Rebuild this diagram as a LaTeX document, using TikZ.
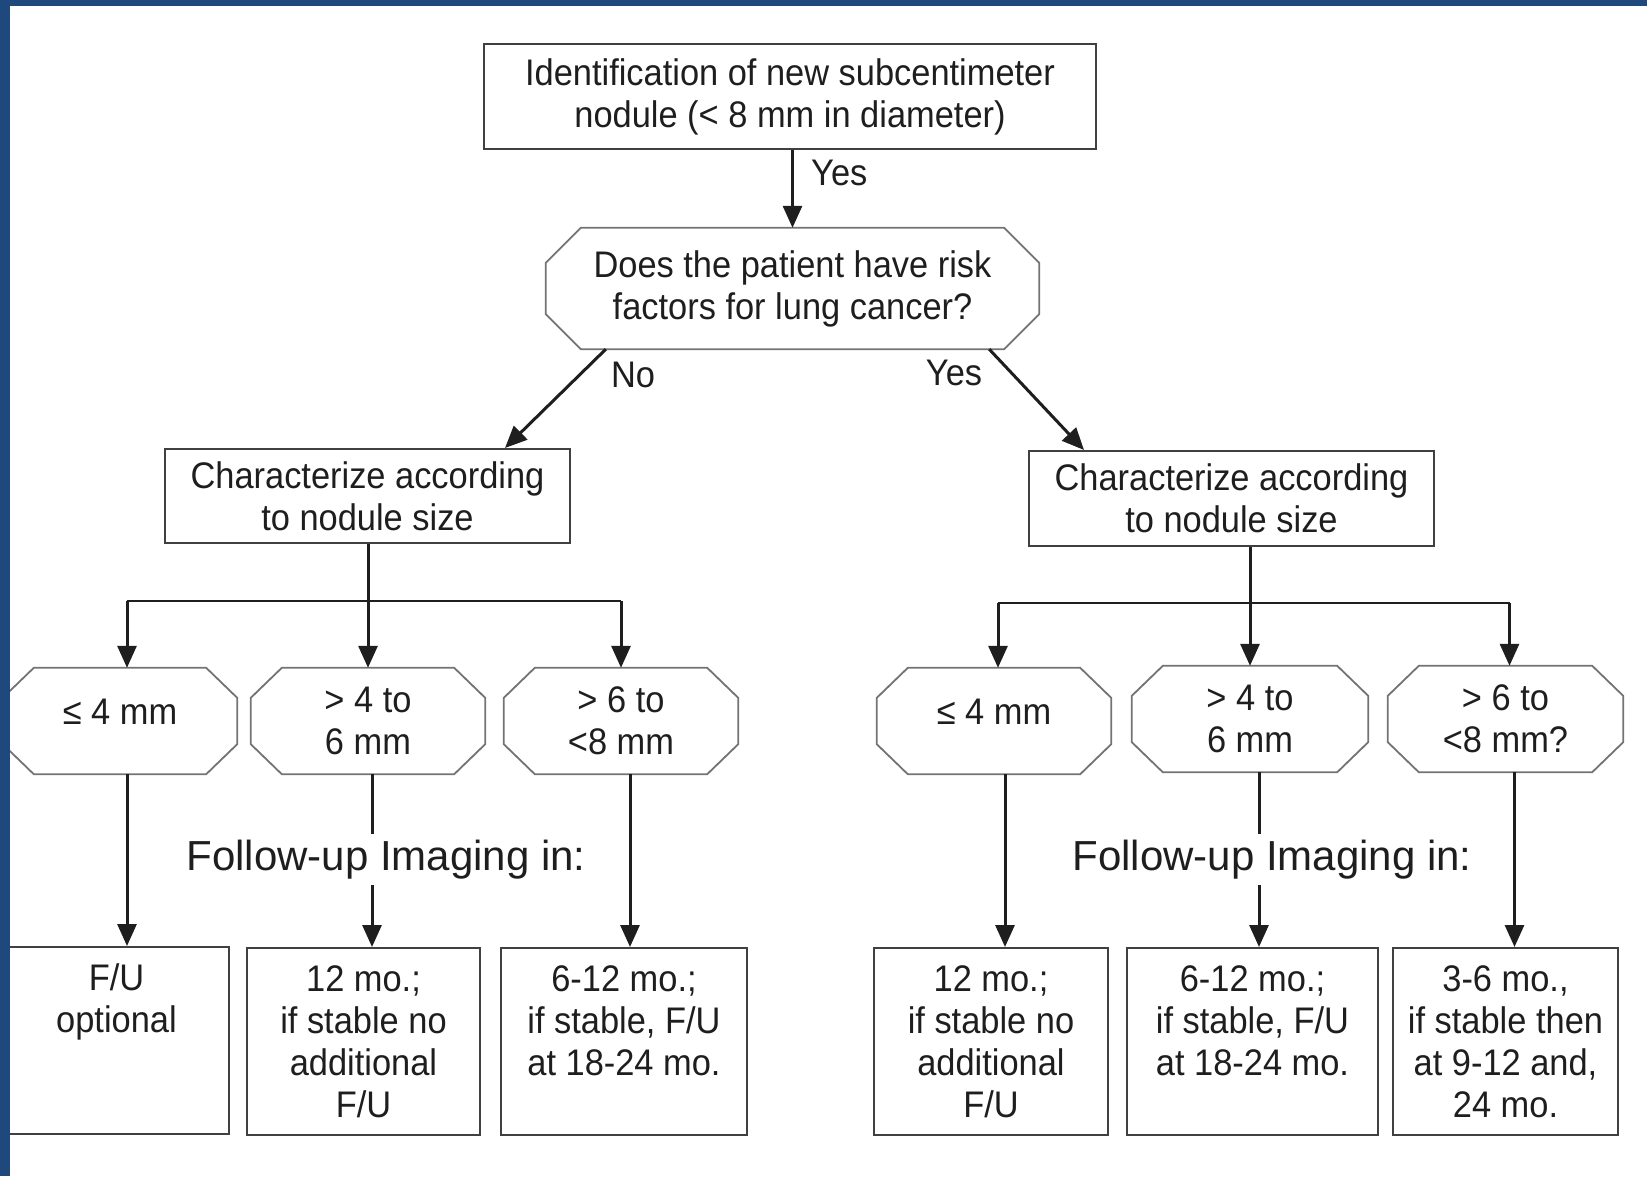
\documentclass[tikz,border=0pt]{standalone}
\usepackage{fontspec}
\setmainfont{Liberation Sans}
\newfontfamily\narrowfont[FakeStretch=0.93]{Liberation Sans}
\usetikzlibrary{arrows.meta,calc}
\definecolor{bandblue}{RGB}{31,73,125}
\definecolor{ink}{RGB}{30,30,30}
\tikzset{
  txt/.style={font=\narrowfont\fontsize{37}{42}\selectfont, text=ink, align=center},
  box/.style={txt, draw=ink!85, line width=2pt, inner sep=0pt},
  octbox/.style={txt, inner sep=0pt, minimum width=234pt, minimum height=106pt},
  octline/.style={draw=black!55, line width=1.8pt, line join=miter},
  bbox/.style={box, minimum height=187pt},
  arr/.style={draw=ink, line width=3pt, -{Triangle[width=19pt,length=22pt]}},
  plainline/.style={draw=ink, line width=3pt},
  bar/.style={draw=ink, line width=2.2pt},
  lbl/.style={txt, inner sep=0pt},
  fu/.style={font=\fontsize{42}{48}\selectfont, text=ink, inner ysep=6pt, inner xsep=0pt, text height=30pt, text depth=9pt},
}
\newcommand\octdraw[3]{%
  \draw[octline] ([xshift=#2]#1.north west) -- ([xshift=-#2]#1.north east)
    -- ([yshift=-#3]#1.north east) -- ([yshift=#3]#1.south east)
    -- ([xshift=-#2]#1.south east) -- ([xshift=#2]#1.south west)
    -- ([yshift=#3]#1.south west) -- ([yshift=-#3]#1.north west) -- cycle;}
\begin{document}
\begin{tikzpicture}[x=1pt,y=-1pt]
\useasboundingbox (0,0) rectangle (1647,1176);

% top
\node[box, minimum width=612pt, minimum height=105pt] (top) at (790,96.5)
  {Identification of new subcentimeter\\nodule (< 8 mm in diameter)};
\node[octbox, minimum width=493pt, minimum height=121pt] (Q) at (792.5,288.5)
  {Does the patient have risk\\factors for lung cancer?};
\octdraw{Q}{35pt}{35pt}

\node[box, minimum width=405pt, minimum height=94pt] (L) at (367.5,496)
  {Characterize according\\to nodule size};
\node[box, minimum width=405pt, minimum height=95pt] (R) at (1231.5,498.5)
  {Characterize according\\to nodule size};

% octagons
\node[octbox, text depth=18pt] (o1) at (120,721) {≤ 4 mm};
\node[octbox] (o2) at (368,721) {> 4 to\\6 mm};
\node[octbox] (o3) at (621,721) {> 6 to\\<8 mm};
\node[octbox, text depth=18pt] (o4) at (994,721) {≤ 4 mm};
\node[octbox, minimum width=236pt] (o5) at (1250,719) {> 4 to\\6 mm};
\node[octbox, minimum width=235pt] (o6) at (1505.5,719) {> 6 to\\<8 mm?};
\foreach \n in {o1,o2,o3,o4,o5,o6} {\octdraw{\n}{31pt}{30pt}}

% bottom boxes
\node[bbox, minimum width=225pt] (B1) at (116.5,1040.5) {F/U\\optional\\\mbox{}\\\mbox{}};
\node[bbox, minimum width=233pt] (B2) at (363.5,1041.5) {12 mo.;\\if stable no\\additional\\F/U};
\node[bbox, minimum width=246pt] (B3) at (624,1041.5) {6-12 mo.;\\if stable, F/U\\at 18-24 mo.\\\mbox{}};
\node[bbox, minimum width=234pt] (B4) at (991,1041.5) {12 mo.;\\if stable no\\additional\\F/U};
\node[bbox, minimum width=251pt] (B5) at (1252.5,1041.5) {6-12 mo.;\\if stable, F/U\\at 18-24 mo.\\\mbox{}};
\node[bbox, minimum width=225pt] (B6) at (1505.5,1041.5) {3-6 mo.,\\if stable then\\at 9-12 and,\\24 mo.};

% follow-up labels
\node[fu, anchor=base] (fuL) at (386,870) {Follow-up Imaging in:};
\node[fu, anchor=base] (fuR) at (1272,870) {Follow-up Imaging in:};

% connectors top
\draw[arr] (top.south -| Q.north) -- (Q.north);
\node[lbl, anchor=west] (yes1) at (811,173) {Yes};
\draw[arr] ([xshift=60pt]Q.south west) -- ([xshift=-66pt]L.north east);
\draw[arr] ([xshift=-50pt]Q.south east) -- ([xshift=56pt]R.north west);
\node[lbl] (no) at (633,375) {No};
\node[lbl] (yes2) at (954,373) {Yes};

% left distribution
\coordinate (jL) at ($(L.south)+(0,57)$);
\draw[bar] ([xshift=7pt]jL -| o1.north) -- (jL -| o3.north);
\draw[arr] ([xshift=7pt]jL -| o1.north) -- ([xshift=7pt]o1.north);
\draw[arr] (jL -| o3.north) -- (o3.north);
\draw[arr] (L.south -| o2.north) -- (o2.north);

% right distribution
\coordinate (jR) at ($(R.south)+(0,56)$);
\draw[bar] ([xshift=4pt]jR -| o4.north) -- ([xshift=4pt]jR -| o6.north);
\draw[arr] ([xshift=4pt]jR -| o4.north) -- ([xshift=4pt]o4.north);
\draw[arr] ([xshift=4pt]jR -| o6.north) -- ([xshift=4pt]o6.north);
\draw[arr] (R.south -| o5.north) -- (o5.north);

% to bottom boxes
\draw[arr] ([xshift=7pt]o1.south) -- ([xshift=7pt]o1.south |- B1.north);
\draw[plainline] ([xshift=4pt]o2.south) -- ([xshift=4pt]o2.south |- fuL.north);
\draw[arr] ([xshift=4pt]o2.south |- fuL.south) -- ([xshift=4pt]o2.south |- B2.north);
\draw[arr] ([xshift=9pt]o3.south) -- ([xshift=9pt]o3.south |- B3.north);
\draw[arr] ([xshift=11pt]o4.south) -- ([xshift=11pt]o4.south |- B4.north);
\draw[plainline] ([xshift=9pt]o5.south) -- ([xshift=9pt]o5.south |- fuR.north);
\draw[arr] ([xshift=9pt]o5.south |- fuR.south) -- ([xshift=9pt]o5.south |- B5.north);
\draw[arr] ([xshift=9pt]o6.south) -- ([xshift=9pt]o6.south |- B6.north);

% frame bands
\fill[bandblue] (0,0) rectangle (1647,6);
\fill[bandblue] (0,0) rectangle (10,1176);
\end{tikzpicture}
\end{document}
